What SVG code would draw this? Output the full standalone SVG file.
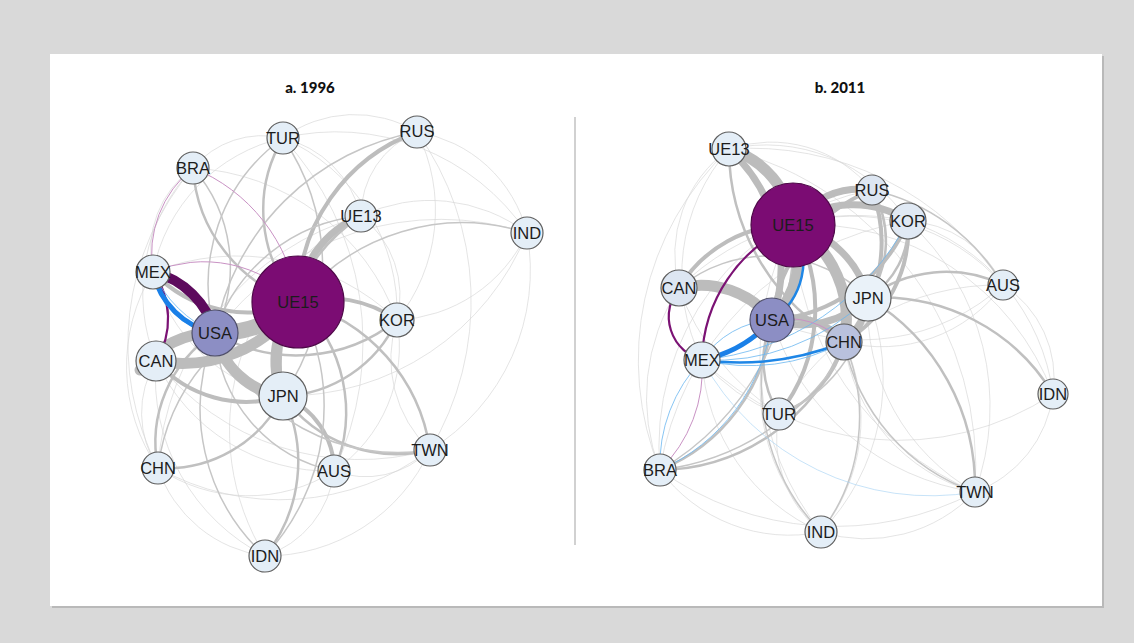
<svg xmlns="http://www.w3.org/2000/svg" width="1134" height="643" viewBox="0 0 1134 643">
<style>
.bg{fill:#d9d9d9}
.panel{fill:#ffffff}
.shadow{fill:#b9b9b9}
.title{font-family:Lato,"Open Sans","Liberation Sans",sans-serif;font-weight:900;font-size:15px;fill:#111;text-anchor:middle}
.lbl{font-family:"Liberation Sans",Arial,sans-serif;font-size:16.5px;fill:#1c1c1c;text-anchor:middle;dominant-baseline:central}
.n{fill:#e4eef7;stroke:#5f5f5f;stroke-width:1.2}
.e path{fill:none;stroke-linecap:round}
.f{stroke:#d6d6d6;stroke-width:1;opacity:0.65}
.g1{stroke:#c6c6c6;stroke-width:1.5}
.g2{stroke:#c0c0c0;stroke-width:2.5}
.g3{stroke:#bdbdbd;stroke-width:4}
.g4{stroke:#bcbcbc;stroke-width:7}
.g5{stroke:#bcbcbc;stroke-width:11}
.g6{stroke:#bcbcbc;stroke-width:16}
.p1{stroke:#c992c4;stroke-width:1}
.p2{stroke:#7b1274;stroke-width:2.2}
.p3{stroke:#5d0a5d;stroke-width:10}
.b1{stroke:#6ab6f0;stroke-width:1;opacity:0.8}
.b2{stroke:#1e86e6;stroke-width:2.5}
.b3{stroke:#1a80e8;stroke-width:5}
</style>
<rect class="bg" x="0" y="0" width="1134" height="643"/>
<rect class="shadow" x="52" y="56" width="1052" height="552"/>
<rect class="panel" x="50" y="54" width="1052" height="552"/>
<text class="title" x="310" y="93">a. 1996</text>
<text class="title" x="840" y="93">b. 2011</text>
<line x1="575" y1="117" x2="575" y2="545" stroke="#b3b3b3" stroke-width="1.2"/>

<g id="connectors" class="e">
 <g id="edges-a">
  <path class="f" d="M283,138 A120,120 0 0 1 417,132"/>
  <path class="f" d="M283,138 A105,105 0 0 1 361,216"/>
  <path class="f" d="M417,132 A90,90 0 0 0 361,216"/>
  <path class="f" d="M417,132 A135,135 0 0 1 527,233"/>
  <path class="f" d="M283,138 A230,230 0 0 1 527,233"/>
  <path class="f" d="M193,168 A90,90 0 0 1 283,138"/>
  <path class="f" d="M193,168 A100,100 0 0 0 153,272"/>
  <path class="f" d="M193,168 A180,180 0 0 0 156,361"/>
  <path class="f" d="M193,168 A270,270 0 0 0 158,468"/>
  <path class="f" d="M153,272 A180,180 0 0 0 158,468"/>
  <path class="f" d="M153,272 A170,170 0 0 1 283,138"/>
  <path class="f" d="M153,272 A230,230 0 0 1 397,320"/>
  <path class="f" d="M158,468 A130,130 0 0 0 265,556"/>
  <path class="f" d="M158,468 A160,160 0 0 0 334,471"/>
  <path class="f" d="M158,468 A250,250 0 0 0 430,450"/>
  <path class="f" d="M265,556 A100,100 0 0 0 334,471"/>
  <path class="f" d="M265,556 A180,180 0 0 0 430,450"/>
  <path class="f" d="M334,471 A90,90 0 0 0 430,450"/>
  <path class="f" d="M430,450 A125,125 0 0 1 397,320"/>
  <path class="f" d="M430,450 A210,210 0 0 0 527,233"/>
  <path class="f" d="M334,471 A150,150 0 0 0 397,320"/>
  <path class="f" d="M417,132 A175,175 0 0 1 397,320"/>
  <path class="f" d="M361,216 A100,100 0 0 1 397,320"/>
  <path class="f" d="M361,216 A160,160 0 0 1 527,233"/>
  <path class="f" d="M156,361 A100,100 0 0 0 158,468"/>
  <path class="f" d="M156,361 A200,200 0 0 0 265,556"/>
  <path class="f" d="M156,361 A190,190 0 0 0 334,471"/>
  <path class="f" d="M153,272 A170,170 0 0 0 283,396"/>
  <path class="f" d="M156,361 A260,260 0 0 0 430,450"/>
  <path class="f" d="M283,138 A190,190 0 0 1 397,320"/>
  <path class="f" d="M417,132 A290,290 0 0 1 430,450"/>
  <path class="f" d="M193,168 A230,230 0 0 1 397,320"/>
  <path class="f" d="M527,233 A280,280 0 0 0 215,333"/>
  <path class="f" d="M527,233 A260,260 0 0 1 283,396"/>
  <path class="f" d="M527,233 A150,150 0 0 1 397,320"/>
  <path class="f" d="M158,468 A280,280 0 0 1 361,216"/>
  <path class="f" d="M265,556 A240,240 0 0 1 361,216"/>
  <path class="f" d="M334,471 A300,300 0 0 0 283,138"/>
  <path class="g2" d="M283,138 A140,140 0 0 0 298,302"/>
  <path class="g1" d="M283,138 A180,180 0 0 0 215,333"/>
  <path class="g1" d="M283,138 A230,230 0 0 1 283,396"/>
  <path class="g2" d="M193,168 A150,150 0 0 0 298,302"/>
  <path class="g1" d="M193,168 A150,150 0 0 1 215,333"/>
  <path class="g3" d="M417,132 A180,180 0 0 0 298,302"/>
  <path class="g1" d="M417,132 A250,250 0 0 0 215,333"/>
  <path class="g4" d="M361,216 A100,100 0 0 0 298,302"/>
  <path class="g2" d="M361,216 A180,180 0 0 0 283,396"/>
  <path class="g1" d="M361,216 A170,170 0 0 0 215,333"/>
  <path class="g3" d="M397,320 A120,120 0 0 0 298,302"/>
  <path class="g2" d="M397,320 A160,160 0 0 1 215,333"/>
  <path class="g2" d="M397,320 A130,130 0 0 1 283,396"/>
  <path class="g3" d="M283,396 A80,80 0 0 1 334,471"/>
  <path class="g2" d="M334,471 A150,150 0 0 0 298,302"/>
  <path class="g1" d="M334,471 A150,150 0 0 1 215,333"/>
  <path class="g2" d="M265,556 A150,150 0 0 0 283,396"/>
  <path class="g1" d="M265,556 A200,200 0 0 1 215,333"/>
  <path class="g1" d="M265,556 A220,220 0 0 0 298,302"/>
  <path class="g2" d="M430,450 A140,140 0 0 1 283,396"/>
  <path class="g2" d="M430,450 A180,180 0 0 0 298,302"/>
  <path class="g1" d="M430,450 A200,200 0 0 1 215,333"/>
  <path class="g2" d="M158,468 A130,130 0 0 0 283,396"/>
  <path class="g2" d="M158,468 A130,130 0 0 1 215,333"/>
  <path class="g1" d="M158,468 A200,200 0 0 1 298,302"/>
  <path class="g3" d="M156,361 A120,120 0 0 0 283,396"/>
  <path class="g1" d="M527,233 A210,210 0 0 0 298,302"/>
  <path class="g5" d="M156,361 A140,140 0 0 0 298,302"/>
  <path class="g5" d="M140,370 A90,90 0 0 1 215,333"/>
  <path class="g5" d="M283,396 A80,80 0 0 1 215,333"/>
  <path class="g5" d="M283,396 A90,90 0 0 1 298,302"/>
  <path class="g6" d="M215,333 A120,120 0 0 0 298,302"/>
  <path class="g3" d="M153,272 A130,130 0 0 0 298,302"/>
  <path class="p1" d="M153,272 A130,130 0 0 1 298,302"/>
  <path class="p1" d="M193,168 A110,110 0 0 0 153,272"/>
  <path class="p1" d="M193,168 A170,170 0 0 1 298,302"/>
  <path class="p2" d="M153,272 A80,80 0 0 1 156,361"/>
  <path class="b1" d="M153,272 A70,70 0 0 0 215,333"/>
  <path class="b1" d="M153,272 A120,120 0 0 0 215,333"/>
  <path class="b3" d="M153,272 A80,80 0 0 0 215,333"/>
  <path class="p3" d="M153,272 A85,85 0 0 1 215,333"/>
 </g>
 <g id="edges-b">
  <path class="f" d="M729,149 A130,130 0 0 1 872,190"/>
  <path class="f" d="M729,149 A170,170 0 0 1 908,221"/>
  <path class="f" d="M729,149 A130,130 0 0 0 679,288"/>
  <path class="f" d="M729,149 A190,190 0 0 0 702,360"/>
  <path class="f" d="M729,149 A290,290 0 0 0 660,470"/>
  <path class="f" d="M729,149 A300,300 0 0 1 1003,285"/>
  <path class="f" d="M729,149 A330,330 0 0 1 975,492"/>
  <path class="f" d="M660,470 A160,160 0 0 0 821,532"/>
  <path class="f" d="M660,470 A300,300 0 0 0 975,492"/>
  <path class="f" d="M821,532 A150,150 0 0 0 975,492"/>
  <path class="f" d="M779,414 A120,120 0 0 0 821,532"/>
  <path class="f" d="M975,492 A120,120 0 0 0 1053,394"/>
  <path class="f" d="M1053,394 A110,110 0 0 0 1003,285"/>
  <path class="f" d="M1003,285 A110,110 0 0 0 908,221"/>
  <path class="f" d="M1053,394 A200,200 0 0 0 868,298"/>
  <path class="f" d="M1053,394 A210,210 0 0 0 908,221"/>
  <path class="f" d="M1053,394 A260,260 0 0 0 793,225"/>
  <path class="f" d="M1053,394 A280,280 0 0 1 702,360"/>
  <path class="f" d="M975,492 A210,210 0 0 1 868,298"/>
  <path class="f" d="M975,492 A180,180 0 0 1 844,342"/>
  <path class="f" d="M975,492 A250,250 0 0 1 772,320"/>
  <path class="f" d="M975,492 A300,300 0 0 1 793,225"/>
  <path class="f" d="M975,492 A250,250 0 0 0 908,221"/>
  <path class="f" d="M821,532 A200,200 0 0 1 772,320"/>
  <path class="f" d="M821,532 A180,180 0 0 0 844,342"/>
  <path class="f" d="M821,532 A280,280 0 0 1 793,225"/>
  <path class="f" d="M821,532 A200,200 0 0 1 702,360"/>
  <path class="f" d="M821,532 A220,220 0 0 0 868,298"/>
  <path class="f" d="M1003,285 A200,200 0 0 0 793,225"/>
  <path class="f" d="M1003,285 A210,210 0 0 1 772,320"/>
  <path class="f" d="M1003,285 A150,150 0 0 1 844,342"/>
  <path class="f" d="M660,470 A300,300 0 0 1 908,221"/>
  <path class="f" d="M679,288 A200,200 0 0 0 660,470"/>
  <path class="f" d="M679,288 A250,250 0 0 0 779,414"/>
  <path class="f" d="M702,360 A180,180 0 0 0 779,414"/>
  <path class="f" d="M660,470 A260,260 0 0 1 872,190"/>
  <path class="f" d="M779,414 A250,250 0 0 1 1003,285"/>
  <path class="f" d="M679,288 A250,250 0 0 1 908,221"/>
  <path class="g2" d="M1003,285 A130,130 0 0 0 868,298"/>
  <path class="g1" d="M1003,285 A200,200 0 0 0 872,190"/>
  <path class="g2" d="M1053,394 A200,200 0 0 0 868,298"/>
  <path class="g2" d="M975,492 A220,220 0 0 0 868,298"/>
  <path class="g1" d="M975,492 A200,200 0 0 1 844,342"/>
  <path class="g1" d="M821,532 A190,190 0 0 0 844,342"/>
  <path class="g1" d="M821,532 A210,210 0 0 1 772,320"/>
  <path class="g2" d="M660,470 A200,200 0 0 0 844,342"/>
  <path class="g2" d="M660,470 A180,180 0 0 0 772,320"/>
  <path class="g1" d="M660,470 A270,270 0 0 0 793,225"/>
  <path class="g1" d="M660,470 A250,250 0 0 0 868,298"/>
  <path class="g3" d="M779,414 A170,170 0 0 0 793,225"/>
  <path class="g2" d="M779,414 A100,100 0 0 1 772,320"/>
  <path class="g2" d="M779,414 A100,100 0 0 0 844,342"/>
  <path class="g1" d="M779,414 A140,140 0 0 0 868,298"/>
  <path class="g2" d="M729,149 A220,220 0 0 0 844,342"/>
  <path class="g3" d="M679,288 A130,130 0 0 1 793,225"/>
  <path class="g1" d="M679,288 A140,140 0 0 1 868,298"/>
  <path class="g3" d="M872,190 A160,160 0 0 0 772,320"/>
  <path class="g3" d="M872,190 A150,150 0 0 1 844,342"/>
  <path class="g2" d="M872,190 A100,100 0 0 1 868,298"/>
  <path class="g3" d="M908,221 A160,160 0 0 1 772,320"/>
  <path class="g3" d="M908,221 A130,130 0 0 1 844,342"/>
  <path class="g2" d="M908,221 A85,85 0 0 1 868,298"/>
  <path class="g5" d="M729,149 A90,90 0 0 1 793,225"/>
  <path class="g4" d="M729,149 A160,160 0 0 1 772,320"/>
  <path class="g4" d="M872,190 A80,80 0 0 0 793,225"/>
  <path class="g4" d="M908,221 A100,100 0 0 0 793,225"/>
  <path class="g5" d="M679,288 A90,90 0 0 1 772,320"/>
  <path class="g4" d="M772,320 A70,70 0 0 1 844,342"/>
  <path class="g5" d="M793,225 A90,90 0 0 1 772,320"/>
  <path class="g5" d="M793,225 A110,110 0 0 1 844,342"/>
  <path class="g4" d="M793,225 A100,100 0 0 1 868,298"/>
  <path class="g4" d="M868,298 A95,95 0 0 1 772,320"/>
  <path class="g3" d="M868,298 A50,50 0 0 1 844,342"/>
  <path class="b1" d="M660,470 A150,150 0 0 1 702,360"/>
  <path class="b1" d="M660,470 A190,190 0 0 0 772,320"/>
  <path class="f" style="stroke:#a9d4f5" d="M702,360 A260,260 0 0 0 975,492"/>
  <path class="b1" d="M702,360 A260,260 0 0 0 908,221"/>
  <path class="b1" d="M702,360 A220,220 0 0 0 868,298"/>
  <path class="b1" d="M702,360 A200,200 0 0 0 844,342"/>
  <path class="b2" d="M702,360 A280,280 0 0 0 844,342"/>
  <path class="b2" d="M772,320 A70,70 0 0 0 793,225"/>
  <path class="b1" d="M702,360 A90,90 0 0 1 772,320"/>
  <path class="b3" d="M702,360 A130,130 0 0 0 772,320"/>
  <path class="p1" d="M660,470 A140,140 0 0 0 702,360"/>
  <path class="p1" d="M772,320 A80,80 0 0 1 844,342"/>
  <path class="p2" d="M679,288 A45,45 0 0 0 702,360"/>
  <path class="p2" d="M702,360 A150,150 0 0 1 793,225"/>
  <path d="M702,338 L750,326 L754,333 L716,356 Z" fill="#5d0a5d" stroke="none"/>
 </g>
</g>

<g id="nodes-a">
 <g id="a-TUR"><circle class="n" cx="283" cy="138" r="16"/><text class="lbl" x="283" y="138">TUR</text></g>
 <g id="a-RUS"><circle class="n" cx="417" cy="132" r="16"/><text class="lbl" x="417" y="131">RUS</text></g>
 <g id="a-BRA"><circle class="n" cx="193" cy="168" r="16"/><text class="lbl" x="193" y="168">BRA</text></g>
 <g id="a-UE13"><circle class="n" cx="361" cy="216" r="16"/><text class="lbl" x="361" y="216">UE13</text></g>
 <g id="a-IND"><circle class="n" cx="527" cy="233" r="16"/><text class="lbl" x="527" y="233">IND</text></g>
 <g id="a-MEX"><circle class="n" cx="153" cy="272" r="17"/><text class="lbl" x="153" y="272">MEX</text></g>
 <g id="a-UE15"><circle class="n" cx="298" cy="302" r="46" style="fill:#7b0c73;stroke:#4e0848"/><text class="lbl" x="298" y="302">UE15</text></g>
 <g id="a-USA"><circle class="n" cx="215" cy="333" r="23" style="fill:#8c8ec4;stroke:#4f4f6a"/><text class="lbl" x="215" y="333">USA</text></g>
 <g id="a-KOR"><circle class="n" cx="397" cy="320" r="17"/><text class="lbl" x="397" y="320">KOR</text></g>
 <g id="a-CAN"><circle class="n" cx="156" cy="361" r="20"/><text class="lbl" x="156" y="361">CAN</text></g>
 <g id="a-JPN"><circle class="n" cx="283" cy="396" r="24"/><text class="lbl" x="283" y="396">JPN</text></g>
 <g id="a-CHN"><circle class="n" cx="158" cy="468" r="16"/><text class="lbl" x="158" y="468">CHN</text></g>
 <g id="a-AUS"><circle class="n" cx="334" cy="471" r="16"/><text class="lbl" x="334" y="471">AUS</text></g>
 <g id="a-TWN"><circle class="n" cx="430" cy="450" r="16"/><text class="lbl" x="430" y="450">TWN</text></g>
 <g id="a-IDN"><circle class="n" cx="265" cy="556" r="16"/><text class="lbl" x="265" y="556">IDN</text></g>
</g>

<g id="nodes-b">
 <g id="b-UE13"><circle class="n" cx="729" cy="149" r="17"/><text class="lbl" x="729" y="149">UE13</text></g>
 <g id="b-UE15"><circle class="n" cx="793" cy="225" r="42" style="fill:#7b0c73;stroke:#4e0848"/><text class="lbl" x="793" y="225">UE15</text></g>
 <g id="b-RUS"><circle class="n" cx="872" cy="190" r="15" style="fill:#dde6f2"/><text class="lbl" x="872" y="190">RUS</text></g>
 <g id="b-KOR"><circle class="n" cx="908" cy="221" r="18" style="fill:#e0e9f4"/><text class="lbl" x="908" y="221">KOR</text></g>
 <g id="b-CAN"><circle class="n" cx="679" cy="288" r="18" style="fill:#dde6f2"/><text class="lbl" x="679" y="288">CAN</text></g>
 <g id="b-JPN"><circle class="n" cx="868" cy="298" r="23" style="fill:#eaf2f9"/><text class="lbl" x="868" y="298">JPN</text></g>
 <g id="b-USA"><circle class="n" cx="772" cy="320" r="22" style="fill:#8c8ec4;stroke:#4f4f6a"/><text class="lbl" x="772" y="320">USA</text></g>
 <g id="b-CHN"><circle class="n" cx="844" cy="342" r="18" style="fill:#b9c1dd"/><text class="lbl" x="844" y="342">CHN</text></g>
 <g id="b-MEX"><circle class="n" cx="702" cy="360" r="18"/><text class="lbl" x="702" y="360">MEX</text></g>
 <g id="b-TUR"><circle class="n" cx="779" cy="414" r="16"/><text class="lbl" x="779" y="414">TUR</text></g>
 <g id="b-BRA"><circle class="n" cx="660" cy="470" r="16"/><text class="lbl" x="660" y="470">BRA</text></g>
 <g id="b-AUS"><circle class="n" cx="1003" cy="285" r="15"/><text class="lbl" x="1003" y="285">AUS</text></g>
 <g id="b-IDN"><circle class="n" cx="1053" cy="394" r="15"/><text class="lbl" x="1053" y="394">IDN</text></g>
 <g id="b-TWN"><circle class="n" cx="975" cy="492" r="15"/><text class="lbl" x="975" y="492">TWN</text></g>
 <g id="b-IND"><circle class="n" cx="821" cy="532" r="16"/><text class="lbl" x="821" y="532">IND</text></g>
</g>
</svg>
